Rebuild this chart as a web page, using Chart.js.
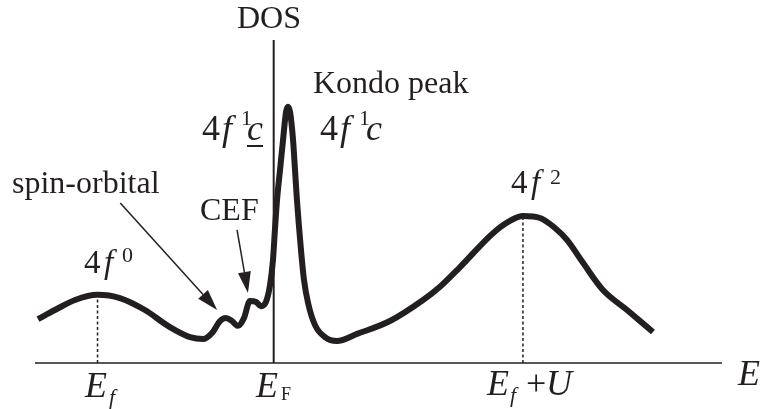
<!DOCTYPE html>
<html><head><meta charset="utf-8">
<script src="https://cdn.jsdelivr.net/npm/chart.js@4/dist/chart.umd.min.js"></script>
<style>html,body{margin:0;padding:0;background:#fff;} #wrap{width:765px;height:409px;}</style>
</head><body><div id="wrap"><canvas id="c" width="765" height="409"></canvas></div>
<script>
// Energy (E_F = 0, E_f = -1) and density of states
const energy = [-1.338,-1.242,-1.128,-1.0,-0.873,-0.731,-0.589,-0.475,-0.401,-0.350,-0.305,-0.271,-0.237,-0.203,-0.169,-0.135,-0.100,-0.072,-0.044,-0.021,-0.004,0.007,0.019,0.036,0.053,0.070,0.081,0.093,0.110,0.121,0.132,0.155,0.172,0.195,0.234,0.291,0.359,0.473,0.660,0.848,0.944,1.058,1.245,1.341,1.415,1.512,1.597,1.665,1.756,1.869,2.006,2.153];
const dos    = [0.136,0.164,0.195,0.211,0.201,0.164,0.111,0.080,0.074,0.093,0.130,0.139,0.130,0.115,0.139,0.192,0.189,0.176,0.189,0.241,0.319,0.412,0.505,0.598,0.690,0.777,0.793,0.777,0.690,0.598,0.505,0.350,0.257,0.186,0.118,0.080,0.068,0.090,0.130,0.195,0.236,0.297,0.402,0.440,0.455,0.449,0.418,0.381,0.310,0.226,0.164,0.096];
// Marked levels: E_f (4f0 peak) and E_f+U (4f2 peak)
const levelEnergies = [-1.0, 1.415];
const levelDos = [0.211, 0.455];
// Arrows (spin-orbital, CEF): start and tip in data units
const arrowFromE = [-0.871, -0.208];
const arrowFromD = [0.495, 0.412];
const arrowToE = [-0.321, -0.146];
const arrowToD = [0.164, 0.217];

const INK = '#231f20';
const FONT = '"Liberation Serif", "Times New Roman", serif';

function put(ctx, parts){
  for(const p of parts){
    ctx.font = (p.i ? 'italic ' : '') + p.s + 'px ' + FONT;
    ctx.fillText(p.t, p.x, p.y);
  }
}

const schematic = {
  id: 'schematic',
  beforeDatasetsDraw(chart){
    const {ctx, scales:{x, y}} = chart;
    ctx.save();
    ctx.strokeStyle = INK;
    ctx.lineCap = 'butt';
    // energy axis
    ctx.lineWidth = 1.5;
    ctx.beginPath();
    ctx.moveTo(x.getPixelForValue(x.min), y.getPixelForValue(0));
    ctx.lineTo(x.getPixelForValue(x.max), y.getPixelForValue(0));
    ctx.stroke();
    // DOS axis at E_F
    ctx.lineWidth = 2;
    ctx.beginPath();
    ctx.moveTo(x.getPixelForValue(0), y.getPixelForValue(0));
    ctx.lineTo(x.getPixelForValue(0), y.getPixelForValue(y.max));
    ctx.stroke();
    // dotted drop lines
    ctx.lineWidth = 1.5;
    ctx.setLineDash([3, 2.5]);
    for(let i=0;i<levelEnergies.length;i++){
      ctx.beginPath();
      ctx.moveTo(x.getPixelForValue(levelEnergies[i]), y.getPixelForValue(0));
      ctx.lineTo(x.getPixelForValue(levelEnergies[i]), y.getPixelForValue(levelDos[i]));
      ctx.stroke();
    }
    ctx.restore();
  },
  afterDatasetsDraw(chart){
    const {ctx, scales:{x, y}} = chart;
    ctx.save();
    ctx.strokeStyle = INK; ctx.fillStyle = INK;
    // arrows
    for(let i=0;i<arrowFromE.length;i++){
      const x0 = x.getPixelForValue(arrowFromE[i]), y0 = y.getPixelForValue(arrowFromD[i]);
      const x1 = x.getPixelForValue(arrowToE[i]), y1 = y.getPixelForValue(arrowToD[i]);
      const a = Math.atan2(y1-y0, x1-x0), L = 21, W = 6.5;
      const bx = x1 - L*Math.cos(a), by = y1 - L*Math.sin(a);
      ctx.lineWidth = 1.5;
      ctx.beginPath(); ctx.moveTo(x0,y0); ctx.lineTo(bx,by); ctx.stroke();
      ctx.beginPath();
      ctx.moveTo(x1,y1);
      ctx.lineTo(bx + W*Math.sin(a), by - W*Math.cos(a));
      ctx.lineTo(bx - W*Math.sin(a), by + W*Math.cos(a));
      ctx.closePath(); ctx.fill();
    }
    ctx.textBaseline = 'alphabetic';
    ctx.textAlign = 'left';
    put(ctx, [{t:'DOS', x:237, y:28, s:32}]);
    put(ctx, [{t:'Kondo peak', x:313, y:93, s:32}]);
    put(ctx, [{t:'4', x:320, y:140, s:36},{t:'f', x:340, y:140, s:36, i:1},{t:'1', x:359, y:125, s:22},{t:'c', x:366, y:140, s:36, i:1}]);
    put(ctx, [{t:'4', x:202, y:140, s:36},{t:'f', x:222, y:140, s:36, i:1},{t:'1', x:241, y:125, s:22},{t:'c', x:247, y:140, s:36, i:1}]);
    ctx.fillRect(247, 145, 16, 2);
    put(ctx, [{t:'spin-orbital', x:12, y:193, s:32}]);
    put(ctx, [{t:'CEF', x:200, y:220, s:32}]);
    put(ctx, [{t:'4', x:84, y:273, s:33},{t:'f', x:104, y:273, s:33, i:1},{t:'0', x:122, y:262, s:22}]);
    put(ctx, [{t:'4', x:511, y:193, s:33},{t:'f', x:531, y:193, s:33, i:1},{t:'2', x:550, y:184, s:22}]);
    put(ctx, [{t:'E', x:85, y:397, s:36, i:1},{t:'f', x:109, y:404, s:22, i:1}]);
    put(ctx, [{t:'E', x:256, y:397, s:36, i:1},{t:'F', x:281, y:400, s:18}]);
    put(ctx, [{t:'E', x:487, y:395, s:36, i:1},{t:'f', x:510, y:402, s:22, i:1},{t:'+', x:526, y:395, s:36},{t:'U', x:546, y:395, s:36, i:1}]);
    put(ctx, [{t:'E', x:738, y:385, s:36, i:1}]);
    ctx.restore();
  }
};

new Chart(document.getElementById('c'), {
  type: 'line',
  data: {
    datasets: [{
      data: energy.map((e, i) => ({x: e, y: dos[i]})),
      borderColor: INK,
      borderWidth: 6,
      pointRadius: 0,
      cubicInterpolationMode: 'monotone',
      fill: false,
      borderJoinStyle: 'round',
      borderCapStyle: 'butt'
    }]
  },
  options: {
    responsive: false,
    animation: false,
    layout: {padding: {left: 35, right: 43, top: 40, bottom: 46}},
    plugins: {legend: {display: false}, tooltip: {enabled: false}, title: {display: false}},
    scales: {
      x: {type: 'linear', min: -1.355, max: 2.545, display: false},
      y: {type: 'linear', min: 0, max: 1, display: false}
    }
  },
  plugins: [schematic]
});
</script></body></html>
